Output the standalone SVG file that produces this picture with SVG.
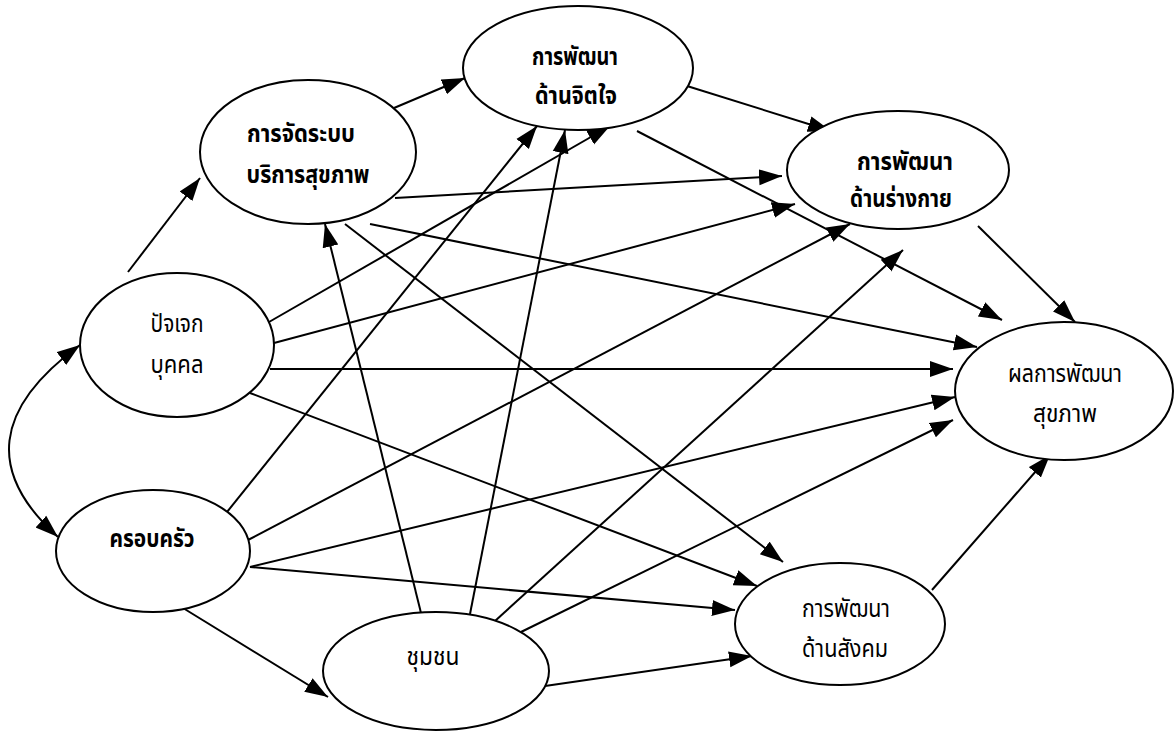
<svg xmlns="http://www.w3.org/2000/svg" width="1175" height="734" viewBox="0 0 1175 734">
  <style>
    .node ellipse { fill: #ffffff; stroke: #000000; stroke-width: 2; }
    .lbl { font-family: "Noto Sans Thai", "Loma", "Garuda", "Norasi", "Noto Sans", sans-serif; font-size: 25px; fill: #000000; text-anchor: middle; }
    .b { font-weight: bold; }
    .edge { stroke: #000000; stroke-width: 2; fill: none; marker-end: url(#ah); }
  </style>
  <defs>
    <marker id="ah" markerUnits="userSpaceOnUse" markerWidth="26" markerHeight="18" refX="23" refY="8.5" orient="auto-start-reverse">
      <path d="M0,0.5 L23,8.5 L0,16.5 z" fill="#000000"/>
    </marker>
  </defs>
  <rect width="1175" height="734" fill="#ffffff"/>

  <!-- connectors -->
  <g id="connectors">
    <!-- individual <-> family -->
    <path class="edge" d="M80,345 Q-50,440 58,537" marker-start="url(#ah)"/>
    <!-- individual -->
    <line class="edge" x1="128" y1="272" x2="200" y2="178"/>
    <line class="edge" x1="269" y1="322" x2="610" y2="126"/>
    <line class="edge" x1="274" y1="343" x2="795" y2="204"/>
    <line class="edge" x1="270" y1="369" x2="953" y2="369"/>
    <line class="edge" x1="250" y1="393" x2="757" y2="586"/>
    <!-- health service system -->
    <line class="edge" x1="394" y1="108" x2="465" y2="78"/>
    <line class="edge" x1="395" y1="198" x2="782" y2="176"/>
    <line class="edge" x1="370" y1="224" x2="977" y2="347"/>
    <line class="edge" x1="345" y1="224" x2="783" y2="562"/>
    <!-- mental -->
    <line class="edge" x1="687" y1="86" x2="831" y2="131"/>
    <line class="edge" x1="637" y1="131" x2="1002" y2="320"/>
    <!-- physical -->
    <line class="edge" x1="978" y1="226" x2="1075" y2="322"/>
    <!-- family -->
    <line class="edge" x1="227" y1="512" x2="537" y2="126"/>
    <line class="edge" x1="248" y1="540" x2="850" y2="224"/>
    <line class="edge" x1="250" y1="567" x2="955" y2="397"/>
    <line class="edge" x1="250" y1="567" x2="735" y2="610"/>
    <line class="edge" x1="183" y1="608" x2="328" y2="697"/>
    <!-- community -->
    <line class="edge" x1="421" y1="613" x2="325" y2="224"/>
    <line class="edge" x1="470" y1="614" x2="565" y2="130"/>
    <line class="edge" x1="495" y1="621" x2="903" y2="250"/>
    <line class="edge" x1="521" y1="632" x2="953" y2="420"/>
    <line class="edge" x1="545" y1="686" x2="752" y2="656"/>
    <!-- social -->
    <line class="edge" x1="932" y1="590" x2="1050" y2="455"/>
  </g>

  <!-- nodes -->
  <g id="n-mental" class="node">
    <ellipse cx="578" cy="68" rx="115" ry="62"/>
    <text class="lbl b" x="575" y="65" textLength="86" lengthAdjust="spacingAndGlyphs">การพัฒนา</text>
    <text class="lbl b" x="576" y="104" textLength="82" lengthAdjust="spacingAndGlyphs">ด้านจิตใจ</text>
  </g>
  <g id="n-service" class="node">
    <ellipse cx="308" cy="152" rx="108" ry="72"/>
    <text class="lbl b" x="301" y="142" textLength="108" lengthAdjust="spacingAndGlyphs">การจัดระบบ</text>
    <text class="lbl b" x="308" y="183" textLength="123" lengthAdjust="spacingAndGlyphs">บริการสุขภาพ</text>
  </g>
  <g id="n-physical" class="node">
    <ellipse cx="898" cy="170" rx="111" ry="59"/>
    <text class="lbl b" x="905" y="170" textLength="96" lengthAdjust="spacingAndGlyphs">การพัฒนา</text>
    <text class="lbl b" x="901" y="207" textLength="102" lengthAdjust="spacingAndGlyphs">ด้านร่างกาย</text>
  </g>
  <g id="n-individual" class="node">
    <ellipse cx="177" cy="345" rx="97" ry="72"/>
    <text class="lbl" x="177" y="332" textLength="53" lengthAdjust="spacingAndGlyphs">ปัจเจก</text>
    <text class="lbl" x="177" y="373" textLength="53" lengthAdjust="spacingAndGlyphs">บุคคล</text>
  </g>
  <g id="n-outcome" class="node">
    <ellipse cx="1064" cy="391" rx="109" ry="69"/>
    <text class="lbl" x="1065" y="382" textLength="114" lengthAdjust="spacingAndGlyphs">ผลการพัฒนา</text>
    <text class="lbl" x="1065" y="422" textLength="64" lengthAdjust="spacingAndGlyphs">สุขภาพ</text>
  </g>
  <g id="n-family" class="node">
    <ellipse cx="153" cy="551" rx="97" ry="61"/>
    <text class="lbl b" x="152" y="547" textLength="85" lengthAdjust="spacingAndGlyphs">ครอบครัว</text>
  </g>
  <g id="n-social" class="node">
    <ellipse cx="840" cy="624" rx="105" ry="61"/>
    <text class="lbl" x="846" y="617" textLength="88" lengthAdjust="spacingAndGlyphs">การพัฒนา</text>
    <text class="lbl" x="845" y="657" textLength="86" lengthAdjust="spacingAndGlyphs">ด้านสังคม</text>
  </g>
  <g id="n-community" class="node">
    <ellipse cx="436" cy="671" rx="113" ry="59"/>
    <text class="lbl" x="433" y="665" textLength="53" lengthAdjust="spacingAndGlyphs">ชุมชน</text>
  </g>
</svg>
